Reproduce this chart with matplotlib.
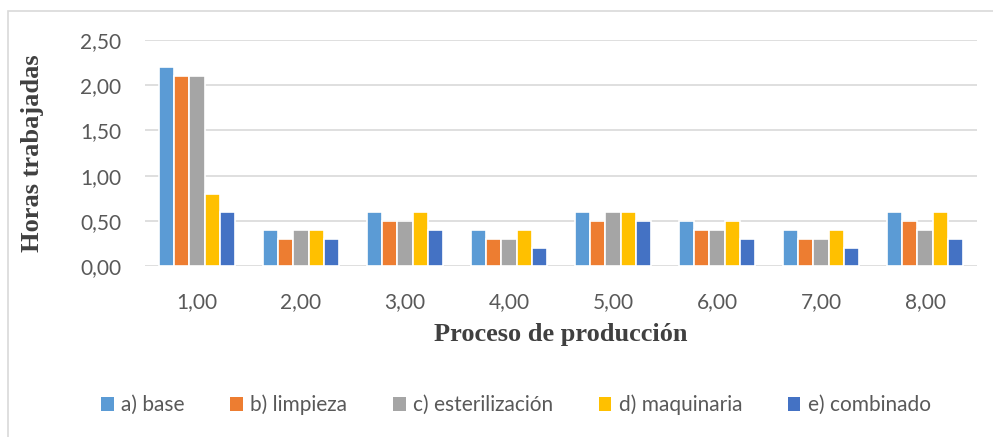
import matplotlib
matplotlib.use("Agg")
import matplotlib.pyplot as plt
import numpy as np
from matplotlib.patches import Rectangle

categories = ["1,00", "2,00", "3,00", "4,00", "5,00", "6,00", "7,00", "8,00"]
series_names = ["a) base", "b) limpieza", "c) esterilización", "d) maquinaria", "e) combinado"]
base = [2.2, 0.4, 0.6, 0.4, 0.6, 0.5, 0.4, 0.6]
limpieza = [2.1, 0.3, 0.5, 0.3, 0.5, 0.4, 0.3, 0.5]
esterilizacion = [2.1, 0.4, 0.5, 0.3, 0.6, 0.4, 0.3, 0.4]
maquinaria = [0.8, 0.4, 0.6, 0.4, 0.6, 0.5, 0.4, 0.6]
combinado = [0.6, 0.3, 0.4, 0.2, 0.5, 0.3, 0.2, 0.3]
yticks = [0.0, 0.5, 1.0, 1.5, 2.0, 2.5]
ytick_labels = ["0,00", "0,50", "1,00", "1,50", "2,00", "2,50"]

colors = ["#5B9BD5", "#ED7D31", "#A5A5A5", "#FFC000", "#4472C4"]
series = [base, limpieza, esterilizacion, maquinaria, combinado]

W, H = 993, 437
fig = plt.figure(figsize=(W / 100, H / 100), dpi=100)
fig.patch.set_facecolor("white")
# chart border
fig.patches.append(Rectangle((8 / W, -0.05), 1.2, 1 - 11 / H + 0.05, transform=fig.transFigure,
                             fill=False, edgecolor="#d9d9d9", linewidth=1.2))

ax = fig.add_axes([145 / W, 1 - 266 / H, (977 - 145) / W, (266 - 40) / H])
x = np.arange(len(categories))
w = 0.147
for i, (vals, c, name) in enumerate(zip(series, colors, series_names)):
    ax.bar(x + (i - 2) * w, vals, width=w, color=c, edgecolor="white", linewidth=1.2,
           label=name, zorder=3)

ax.set_xlim(-0.5, len(categories) - 0.5)
ax.set_ylim(0, 2.5)
ax.set_yticks(yticks)
ax.set_yticklabels(ytick_labels)
ax.set_xticks(x)
ax.set_xticklabels(categories)
ax.yaxis.grid(True, color="#d9d9d9", linewidth=1.2, zorder=0)
ax.set_axisbelow(True)
for s in ax.spines.values():
    s.set_visible(False)
ax.tick_params(axis="both", length=0, labelsize=15, labelcolor="#595959")
ax.tick_params(axis="x", pad=19)
ax.tick_params(axis="y", pad=17)
for lab in ax.get_xticklabels() + ax.get_yticklabels():
    lab.set_family("Lato")

fig.text(561 / W, 1 - 335 / H, "Proceso de producción", ha="center", va="center",
         family="Liberation Serif", fontweight="bold", fontsize=19, color="#404040")
fig.text(33 / W, 1 - 153 / H, "Horas trabajadas", ha="center", va="center", rotation=90,
         family="Liberation Serif", fontweight="bold", fontsize=19, color="#404040")

leg = fig.legend(loc="center", bbox_to_anchor=(516 / W, 1 - 405 / H), ncol=5, frameon=False,
                 prop={"family": "Lato", "size": 15}, handlelength=0.6, handleheight=0.6,
                 handletextpad=0.35, columnspacing=2.2, labelcolor="#595959")
for h in leg.legend_handles:
    h.set_edgecolor("none")

fig.savefig("out.png", dpi=100, facecolor="white")
